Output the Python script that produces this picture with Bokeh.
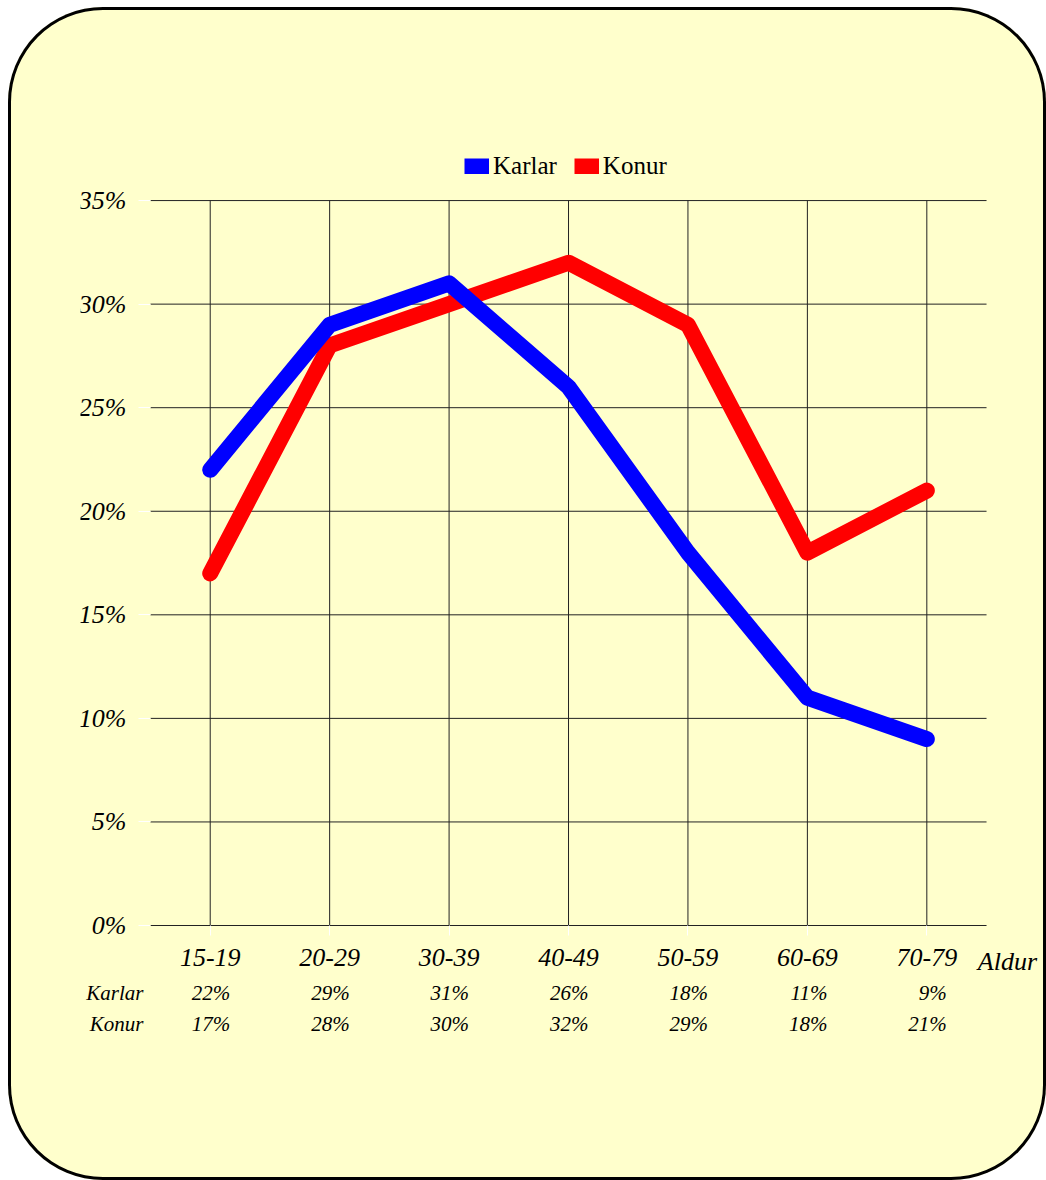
from bokeh.plotting import figure
from bokeh.models import (Range1d, FixedTicker, PrintfTickFormatter, Legend, LegendItem)
from bokeh.core.properties import value
from bokeh.embed import file_html
from bokeh.resources import INLINE

# ---- data ----
age_groups = ["15-19", "20-29", "30-39", "40-49", "50-59", "60-69", "70-79"]
karlar = [22, 29, 31, 26, 18, 11, 9]
konur = [17, 28, 30, 32, 29, 18, 21]
series_names = ["Karlar", "Konur"]
y_ticks = [0, 5, 10, 15, 20, 25, 30, 35]
x_title = "Aldur"

FONT = "Liberation Serif"
BG = "#FFFFCC"
GRID = "#222222"

idx = list(range(len(age_groups)))
x_lo, x_hi = idx[0] - 0.5, idx[-1] + 0.5

p = figure(width=1038, height=1173, output_backend="svg", toolbar_location=None,
           x_range=Range1d(-1.086, 7.002), y_range=Range1d(-5.793, 37.90),
           min_border_left=72, min_border_right=0, min_border_top=133, min_border_bottom=135)
p.title.visible = False
p.border_fill_alpha = 0
p.background_fill_alpha = 0
p.outline_line_color = None
p.xgrid.visible = False
p.ygrid.visible = False
p.styles = {"margin-left": "8px", "margin-top": "7px",
            "border-radius": "95px", "background-color": BG,
            "box-shadow": "inset 0 0 0 3px #000000", "overflow": "hidden"}

# grid lines limited to the data area
p.segment(x0=[x_lo] * len(y_ticks), y0=y_ticks, x1=[x_hi] * len(y_ticks), y1=y_ticks,
          line_color=GRID, line_width=1)
p.segment(x0=idx, y0=[y_ticks[0]] * len(idx), x1=idx, y1=[y_ticks[-1]] * len(idx),
          line_color=GRID, line_width=1)

# y axis
p.yaxis.fixed_location = x_lo
p.yaxis.ticker = FixedTicker(ticks=y_ticks)
p.yaxis.formatter = PrintfTickFormatter(format="%d%%")
p.yaxis.axis_line_color = None
p.yaxis.major_tick_line_color = "white"
p.yaxis.major_tick_out = 12
p.yaxis.major_tick_in = 0
p.yaxis.minor_tick_line_color = None
p.yaxis.major_label_standoff = 12
p.yaxis.major_label_text_font = FONT
p.yaxis.major_label_text_font_style = "italic"
p.yaxis.major_label_text_font_size = "26px"
p.yaxis.major_label_text_color = "black"

# x axis
p.xaxis.fixed_location = y_ticks[0]
p.xaxis.ticker = FixedTicker(ticks=idx)
p.xaxis.major_label_overrides = {i: g for i, g in zip(idx, age_groups)}
p.xaxis.axis_line_color = None
p.xaxis.major_tick_line_color = "white"
p.xaxis.major_tick_out = 10
p.xaxis.major_tick_in = 0
p.xaxis.minor_tick_line_color = None
p.xaxis.major_label_standoff = 13
p.xaxis.major_label_text_font = FONT
p.xaxis.major_label_text_font_style = "italic"
p.xaxis.major_label_text_font_size = "26px"
p.xaxis.major_label_text_color = "black"

# lines (red first so blue is drawn on top)
p.line(idx, konur, line_color="#FF0000", line_width=16, line_cap="round", line_join="round")
p.line(idx, karlar, line_color="#0000FF", line_width=16, line_cap="round", line_join="round")

# hidden renderers for square legend swatches
lk = p.line(idx, karlar, line_color="#0000FF", line_width=16, line_cap="butt", visible=False)
lo = p.line(idx, konur, line_color="#FF0000", line_width=16, line_cap="butt", visible=False)

legend = Legend(items=[LegendItem(label=series_names[0], renderers=[lk]),
                       LegendItem(label=series_names[1], renderers=[lo])],
                location=(384, 865), orientation="horizontal",
                glyph_width=25, glyph_height=16, label_standoff=4, spacing=17,
                padding=0, margin=0, border_line_alpha=0, background_fill_alpha=0,
                label_text_font=FONT, label_text_font_size="25px", label_text_color="black")
p.add_layout(legend)

# data table below the axis
table_font = dict(text_font=value(FONT), text_font_style="italic", text_font_size="21px",
                  text_color="black", text_baseline="alphabetic")
for vals, yoff in ((karlar, 67), (konur, 98)):
    p.text(x=idx, y=[y_ticks[0]] * len(idx), text=[f"{v}%" for v in vals],
           x_offset=20, y_offset=yoff, text_align="right", **table_font)
p.text(x=[x_lo, x_lo], y=[y_ticks[0]] * 2, text=series_names,
       x_offset=-7, y_offset=[67, 98], text_align="right", **table_font)

p.text(x=[idx[-1]], y=[y_ticks[0]], text=[x_title], x_offset=51, y_offset=36,
       text_align="left", text_baseline="alphabetic", text_font=value(FONT),
       text_font_style="italic", text_font_size="26px", text_color="black")

open("out.html", "w").write(file_html(p, INLINE))
